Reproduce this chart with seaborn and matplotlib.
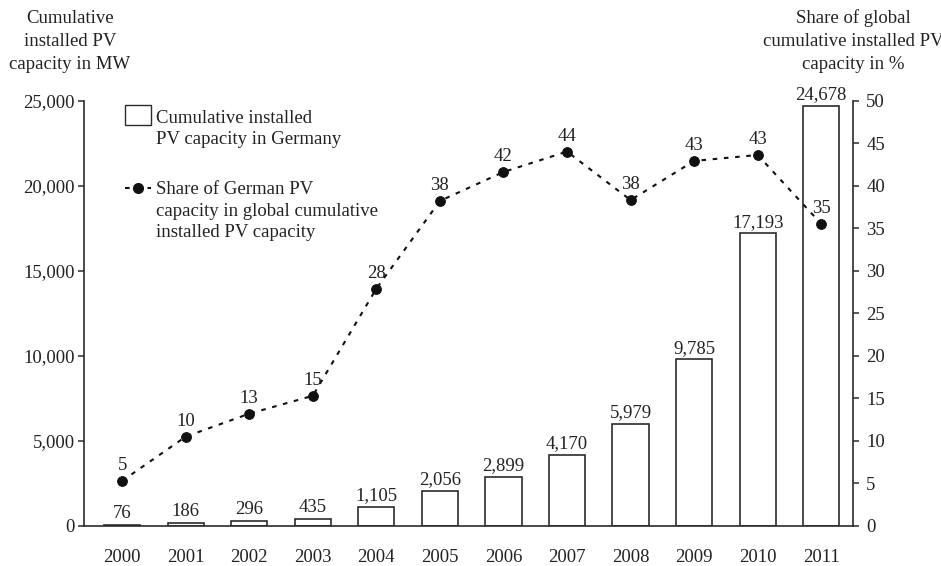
import numpy as np
import matplotlib
matplotlib.use("Agg")
import matplotlib.pyplot as plt
from matplotlib.patches import Rectangle
import seaborn as sns

years = ["2000", "2001", "2002", "2003", "2004", "2005",
         "2006", "2007", "2008", "2009", "2010", "2011"]
capacity_mw = [76, 186, 296, 435, 1105, 2056, 2899, 4170, 5979, 9785, 17193, 24678]
share_pct = [5.3, 10.5, 13.2, 15.3, 27.9, 38.2, 41.6, 44.0, 38.3, 42.9, 43.6, 35.5]
share_labels = ["5", "10", "13", "15", "28", "38", "42", "44", "38", "43", "43", "35"]

left_title = "Cumulative\ninstalled PV\ncapacity in MW"
right_title = "Share of global\ncumulative installed PV\ncapacity in %"
bar_legend = "Cumulative installed\nPV capacity in Germany"
line_legend = "Share of German PV\ncapacity in global cumulative\ninstalled PV capacity"

sns.set_style("white")
plt.rcParams["font.family"] = ["Liberation Serif", "DejaVu Serif"]
plt.rcParams["font.size"] = 13.5
plt.rcParams["text.color"] = "#222222"

FS = 13.5
INK = "#2b2b2b"

fig = plt.figure(figsize=(9.41, 5.66), dpi=100)
ax = fig.add_axes([0.0893, 0.0707, 0.8172, 0.7517])

sns.barplot(x=years, y=capacity_mw, color="white", edgecolor=INK,
            linewidth=1.2, width=0.57, saturation=1, ax=ax)
ax.bar_label(ax.containers[0], labels=[f"{v:,}" for v in capacity_mw],
             padding=2, fontsize=FS, color="#222222")

ax.set_xlim(-0.6, 11.5)
ax.set_ylim(0, 25000)
ax.set_yticks(np.arange(0, 25001, 5000))
ax.set_yticklabels([f"{v:,}" for v in range(0, 25001, 5000)])
ax.set_xlabel("")
ax.set_ylabel("")
ax.tick_params(axis="x", length=0, pad=16.5, labelsize=FS, labelcolor="#222222")
ax.tick_params(axis="y", direction="out", length=4.5, width=1.1,
               color=INK, pad=2, labelsize=FS, left=True, labelcolor="#222222")

ax2 = ax.twinx()
sns.lineplot(x=np.arange(len(years)), y=share_pct, ax=ax2, color="#111111",
             linestyle=(0, (2.2, 3.2)), linewidth=1.5, marker="o",
             markersize=7, markeredgecolor="#111111")
for i, (v, lab) in enumerate(zip(share_pct, share_labels)):
    ax2.annotate(lab, (i, v), xytext=(0, 5), textcoords="offset points",
                 ha="center", va="bottom", fontsize=FS)
ax2.set_ylim(0, 50)
ax2.set_yticks(np.arange(0, 51, 5))
ax2.set_xlim(-0.6, 11.5)
ax2.tick_params(axis="y", direction="out", length=4.5, width=1.1,
                color=INK, pad=5, labelsize=FS, right=True, labelcolor="#222222")

for a in (ax, ax2):
    a.spines["top"].set_visible(False)
    for s in ("left", "right", "bottom"):
        a.spines[s].set_color(INK)
        a.spines[s].set_linewidth(1.2)
ax.spines["right"].set_visible(False)
ax2.spines["left"].set_visible(False)
ax2.spines["bottom"].set_visible(False)

# hand-made legend, handles aligned with the first text line
ax2.add_patch(Rectangle((0.0532, 0.9424), 0.0338, 0.047, transform=ax2.transAxes,
                        facecolor="white", edgecolor=INK, linewidth=1.0,
                        clip_on=False))
ax2.text(0.0935, 0.978, bar_legend, transform=ax2.transAxes,
         ha="left", va="top", fontsize=FS, linespacing=1.35)
ax2.plot([0.0532, 0.087], [0.7944, 0.7944], transform=ax2.transAxes,
         color="#111111", linestyle=(0, (2.2, 3.2)), linewidth=1.5)
ax2.plot([0.0705], [0.7944], transform=ax2.transAxes, marker="o",
         markersize=7, color="#111111")
ax2.text(0.0935, 0.810, line_legend, transform=ax2.transAxes,
         ha="left", va="top", fontsize=FS, linespacing=1.35)

# axis titles sit above the axes; the right one runs off the edge as in the source
fig.text(0.0744, 0.983, left_title, ha="center", va="top",
         multialignment="center", fontsize=FS, linespacing=1.46)
fig.text(0.9065, 0.983, right_title, ha="center", va="top",
         multialignment="center", fontsize=FS, linespacing=1.46)

fig.savefig("out.png", dpi=100, facecolor="white")
